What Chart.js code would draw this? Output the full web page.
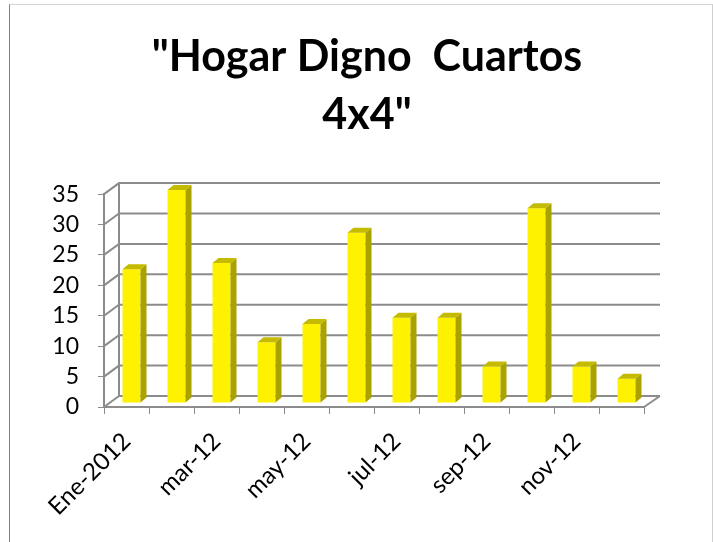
<!DOCTYPE html>
<html>
<head>
<meta charset="utf-8">
<script src="https://cdn.jsdelivr.net/npm/chart.js@4"></script>
<style>
  body { margin: 0; background: #fff; overflow: hidden; }
  #frame {
    position: absolute; left: 9px; top: 4px; width: 704px; height: 540px;
    box-sizing: border-box; pointer-events: none;
    border-left: 1px solid #808080; border-top: 1px solid #d4d4d4; border-right: 1px solid #cfcfcf;
  }
  canvas { display: block; }
</style>
</head>
<body>
<canvas id="myChart" width="713" height="542"></canvas>
<div id="frame"></div>
<script>
const titleLines = ['"Hogar Digno  Cuartos', '4x4"'];
const months = ['Ene-2012', 'feb-12', 'mar-12', 'abr-12', 'may-12', 'jun-12',
                'jul-12', 'ago-12', 'sep-12', 'oct-12', 'nov-12', 'dic-12'];
const cuartos = [22, 35, 23, 10, 13, 28, 14, 14, 6, 32, 6, 4];
const yMax = 35;
const yStep = 5;

// 3d look: back wall offset, bar offset inside the depth, bar depth
const DX = 15, DY = -11;
const BX = 5, BY = -4;
const SX = 6, SY = -5;

const grey = '#8c8c8c';

const fake3d = {
  id: 'fake3d',
  beforeDatasetsDraw(chart) {
    const { ctx, chartArea: a, scales: { y } } = chart;
    ctx.save();
    ctx.lineWidth = 2;
    ctx.strokeStyle = grey;
    y.ticks.forEach(t => {
      const py = y.getPixelForValue(t.value);
      ctx.beginPath();
      ctx.moveTo(a.left, py);
      ctx.lineTo(a.left + DX, py + DY);
      ctx.lineTo(a.right + DX + 1, py + DY);
      ctx.stroke();
    });
    ctx.beginPath();
    ctx.moveTo(a.left + DX, a.top + DY);
    ctx.lineTo(a.left + DX, a.bottom + DY);
    ctx.moveTo(a.right, a.bottom);
    ctx.lineTo(a.right + DX + 1, a.bottom + DY);
    ctx.stroke();
    ctx.restore();
    // bars sit in the middle of the depth
    ctx.save();
    ctx.translate(BX, BY);
  },
  afterDatasetsDraw(chart) {
    const ctx = chart.ctx;
    chart.getDatasetMeta(0).data.forEach(bar => {
      const { x, y, base, width } = bar.getProps(['x', 'y', 'base', 'width'], true);
      const l = x - width / 2, r = x + width / 2;
      ctx.fillStyle = '#aaa200';
      ctx.beginPath();
      ctx.moveTo(r, y); ctx.lineTo(r + SX, y + SY); ctx.lineTo(r + SX, base + SY); ctx.lineTo(r, base);
      ctx.closePath(); ctx.fill();
      ctx.fillStyle = '#c4ba00';
      ctx.beginPath();
      ctx.moveTo(l, y); ctx.lineTo(l + SX, y + SY); ctx.lineTo(r + SX, y + SY); ctx.lineTo(r, y);
      ctx.closePath(); ctx.fill();
    });
    ctx.restore();
  }
};

new Chart('myChart', {
  type: 'bar',
  data: {
    labels: months,
    datasets: [{
      data: cuartos,
      backgroundColor: '#fff200',
      borderWidth: 0,
      barPercentage: 0.4,
      categoryPercentage: 1.0
    }]
  },
  options: {
    responsive: false,
    animation: false,
    layout: { padding: { left: 21, right: 0, top: 0, bottom: 0 } },
    plugins: {
      legend: { display: false },
      tooltip: { enabled: false },
      title: {
        display: true,
        text: titleLines,
        color: '#000',
        font: { family: 'Lato', size: 43, weight: 'bold', lineHeight: 1.35 },
        padding: { top: 28, bottom: 50 }
      }
    },
    scales: {
      x: {
        afterFit: s => { s.height = 135; },
        grid: { drawOnChartArea: false, drawTicks: true, tickLength: 7, color: grey, offset: true },
        border: { display: true, color: grey, width: 2 },
        ticks: {
          autoSkip: false, maxRotation: 45, minRotation: 45, padding: 13,
          color: '#000', font: { family: 'Lato', size: 24 },
          callback: function (v, i) { return i % 2 === 0 ? this.getLabelForValue(v) : ''; }
        }
      },
      y: {
        min: 0, max: yMax,
        afterFit: s => { s.width = 83; },
        grid: { drawOnChartArea: false, drawTicks: true, tickLength: 6, color: grey },
        border: { display: true, color: grey, width: 2 },
        ticks: { stepSize: yStep, autoSkip: false, padding: 19, color: '#000', font: { family: 'Lato', size: 23 } }
      },
      // empty right side so the plot ends where the reference ends
      pad: {
        type: 'linear', position: 'right',
        afterFit: s => { s.width = 69; },
        grid: { display: false },
        border: { display: false },
        ticks: { display: false }
      }
    }
  },
  plugins: [fake3d]
});
</script>
</body>
</html>
